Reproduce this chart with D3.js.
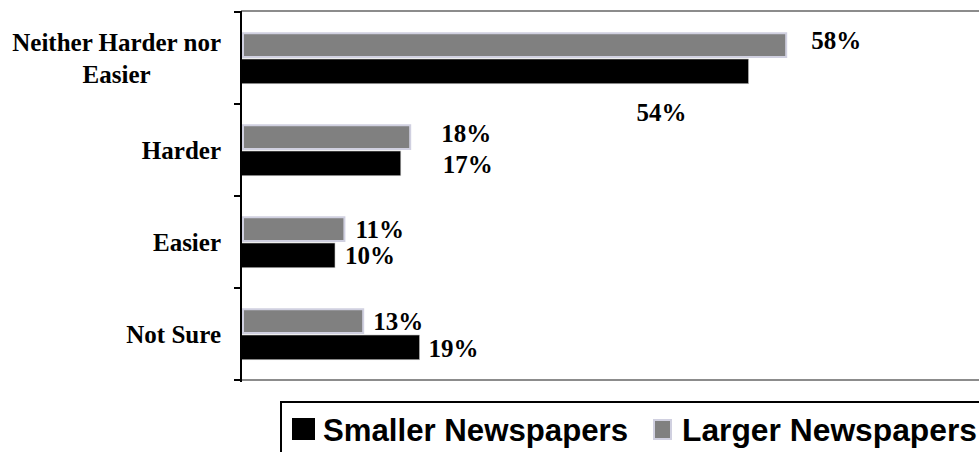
<!DOCTYPE html>
<html>
<head>
<meta charset="utf-8">
<script src="https://cdn.jsdelivr.net/npm/d3@7"></script>
<style>
  body { margin: 0; background: #fff; }
  svg { display: block; }
</style>
</head>
<body>
<svg id="svg" width="979" height="452"></svg>
<script>
var categories = [['Neither Harder nor', 'Easier'], ['Harder'], ['Easier'], ['Not Sure']];
var smallerValues = [54, 17, 10, 19];
var largerValues = [58, 18, 11, 13];
var seriesNames = ['Smaller Newspapers', 'Larger Newspapers'];

var width = 979;
var height = 452;
var plotLeft = 241;
var plotTop = 11;
var plotBottom = 380;

var svg = d3.select('svg');

var x = d3.scaleLinear()
    .domain([0, 80])
    .range([plotLeft, plotLeft + 80 * 9.4]);

var y = d3.scaleBand()
    .domain(d3.range(categories.length))
    .range([plotTop + 1, plotBottom])
    .paddingInner(0.44)
    .paddingOuter(0.22);

// frame lines (top and bottom, grey)
svg.append('line')
    .attr('x1', plotLeft).attr('x2', width)
    .attr('y1', plotTop).attr('y2', plotTop)
    .attr('stroke', '#8c8c8c').attr('stroke-width', 2);
svg.append('line')
    .attr('x1', plotLeft).attr('x2', width)
    .attr('y1', plotBottom).attr('y2', plotBottom)
    .attr('stroke', '#8c8c8c').attr('stroke-width', 2);

var inner = y.bandwidth() / 2;

// larger newspapers (grey, top of each pair)
svg.selectAll('.larger')
    .data(largerValues)
    .enter()
    .append('rect')
    .attr('class', 'larger')
    .attr('x', x(0) + 2)
    .attr('y', function (d, i) { return y(i) + 1; })
    .attr('width', function (d) { return x(d) - x(0) - 2; })
    .attr('height', inner - 2)
    .attr('fill', '#808080')
    .attr('stroke', '#d0d0e0')
    .attr('stroke-width', 2);

// smaller newspapers (black, below)
svg.selectAll('.smaller')
    .data(smallerValues)
    .enter()
    .append('rect')
    .attr('class', 'smaller')
    .attr('x', x(0))
    .attr('y', function (d, i) { return y(i) + inner + 1; })
    .attr('width', function (d) { return x(d) - x(0); })
    .attr('height', inner - 1)
    .attr('fill', '#000')
    .attr('stroke', '#c8c8c8')
    .attr('stroke-width', 0.6);

// y axis
var bandStep = y.step();
var tickYs = d3.range(categories.length + 1).map(function (i) {
    return y(0) - y.paddingOuter() * bandStep + i * bandStep;
});
svg.append('line')
    .attr('x1', plotLeft).attr('x2', plotLeft)
    .attr('y1', plotTop).attr('y2', plotBottom + 2)
    .attr('stroke', '#000').attr('stroke-width', 2);
svg.selectAll('.tick')
    .data(tickYs)
    .enter()
    .append('line')
    .attr('class', 'tick')
    .attr('x1', plotLeft - 7).attr('x2', plotLeft)
    .attr('y1', function (d) { return d; })
    .attr('y2', function (d) { return d; })
    .attr('stroke', '#000').attr('stroke-width', 2);

// category labels
var labelFont = '"Liberation Serif", "Times New Roman", serif';
categories.forEach(function (lines, i) {
    var cy = y(i) + y.bandwidth() / 2;
    var g = svg.append('text')
        .attr('font-family', labelFont)
        .attr('font-weight', 'bold')
        .attr('font-size', 25)
        .attr('fill', '#000');
    var lineH = 32;
    lines.forEach(function (t, j) {
        g.append('tspan')
            .attr('x', 221)
            .attr('y', cy + 9 + (j - (lines.length - 1) / 2) * lineH)
            .text(t);
    });
    if (lines.length > 1) {
        var maxW = 0;
        g.selectAll('tspan').each(function () {
            maxW = Math.max(maxW, this.getComputedTextLength());
        });
        g.attr('text-anchor', 'middle');
        g.selectAll('tspan').attr('x', 221 - maxW / 2);
    } else {
        g.attr('text-anchor', 'end');
    }
});

// value labels, offset from bar ends as placed in the original
var largerLabelOff = [[25, 17], [31, 18], [11, 22], [10, 22]];
var smallerLabelOff = [[-112, 63], [42, 23], [10, 22], [9, 23]];
function addValueLabels(values, offsets, cls, top) {
    svg.selectAll('.' + cls)
        .data(values)
        .enter()
        .append('text')
        .attr('class', cls)
        .attr('x', function (d, i) { return x(d) + offsets[i][0]; })
        .attr('y', function (d, i) { return y(i) + (top ? 0 : inner) + offsets[i][1]; })
        .attr('font-family', labelFont)
        .attr('font-weight', 'bold')
        .attr('font-size', 25)
        .attr('fill', '#000')
        .text(function (d) { return d + '%'; });
}
addValueLabels(largerValues, largerLabelOff, 'lv', true);
addValueLabels(smallerValues, smallerLabelOff, 'sv', false);

// legend
var legendFont = '"Liberation Sans", Arial, sans-serif';
svg.append('rect')
    .attr('x', 281).attr('y', 402)
    .attr('width', 720).attr('height', 70)
    .attr('fill', '#fff')
    .attr('stroke', '#000')
    .attr('stroke-width', 2);

svg.append('rect')
    .attr('x', 292).attr('y', 418)
    .attr('width', 23).attr('height', 22)
    .attr('fill', '#000');
svg.append('text')
    .attr('x', 323).attr('y', 441)
    .attr('font-family', legendFont)
    .attr('font-weight', 'bold')
    .attr('font-size', 32)
    .attr('textLength', 305)
    .attr('lengthAdjust', 'spacingAndGlyphs')
    .text(seriesNames[0]);

svg.append('rect')
    .attr('x', 654).attr('y', 420)
    .attr('width', 17).attr('height', 19)
    .attr('fill', '#808080')
    .attr('stroke', '#d0d0e0')
    .attr('stroke-width', 2);
svg.append('text')
    .attr('x', 682).attr('y', 441)
    .attr('font-family', legendFont)
    .attr('font-weight', 'bold')
    .attr('font-size', 32)
    .attr('textLength', 295)
    .attr('lengthAdjust', 'spacingAndGlyphs')
    .text(seriesNames[1]);
</script>
</body>
</html>
